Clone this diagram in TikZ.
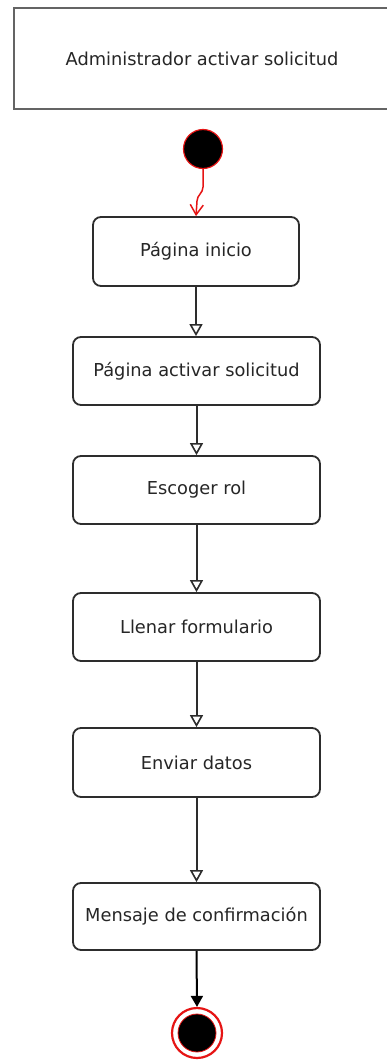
\documentclass[tikz,border=0pt]{standalone}
\usepackage{fontspec}
\setmainfont{DejaVu Sans}
\usetikzlibrary{arrows.meta}
\definecolor{edgegray}{RGB}{45,45,45}
\definecolor{framegray}{RGB}{100,100,100}
\definecolor{umlred}{RGB}{230,20,20}
\begin{document}
\begin{tikzpicture}[x=1pt,y=-1pt,
  every node/.style={font=\fontsize{17.8}{20}\selectfont, text=black!85},
  actbox/.style={draw=edgegray, line width=1.8pt, rounded corners=8pt, fill=white,
    minimum width=247pt, minimum height=68pt, inner sep=0pt},
  flow/.style={draw=edgegray, line width=2pt,
    -{Triangle[open, length=12pt, width=13pt, line width=1.6pt]}},
  endflow/.style={draw=black, line width=2pt,
    -{Triangle[length=11pt, width=12pt]}},
  startflow/.style={draw=umlred, line width=1.5pt,
    -{Straight Barb[length=10pt, width=13pt, line width=1.5pt]}}]
\useasboundingbox (0,0) rectangle (386,1060);
\fill[white] (0,0) rectangle (386,1060);

% title frame, open on the right-hand side of the page
\node[draw=framegray, line width=2.8pt, minimum width=376pt, minimum height=101pt,
  inner sep=0pt] (title) at (202,58.5) {Administrador activar solicitud};

% initial state
\node[circle, fill=black, draw=umlred, line width=1.2pt, minimum size=39pt, inner sep=0pt]
  (start) at (203,149) {};

% activities
\node[actbox, minimum width=206pt, minimum height=69pt] (inicio) at (196,251.5) {Página inicio};
\node[actbox] (activar) at (196.5,371) {Página activar solicitud};
\node[actbox] (rol) at (196.5,490) {Escoger rol};
\node[actbox] (form) at (196.5,627) {Llenar formulario};
\node[actbox, minimum height=69pt] (datos) at (196.5,762.5) {Enviar datos};
\node[actbox, minimum height=67pt] (msg) at (196.5,916.5) {Mensaje de confirmación};

% final state
\node[circle, draw=umlred, line width=2.2pt, fill=white, minimum size=50pt, inner sep=0pt]
  (fin) at (197,1033) {};
\node[circle, fill=black, draw=umlred, line width=0.8pt, minimum size=38pt, inner sep=0pt]
  (findot) at (fin.center) {};

% transitions
\draw[startflow] (start.south) -- ++(0,18) .. controls +(0,6) and +(0,-6) .. ++(-6,14)
  -- (inicio.north -| 196,0);
\draw[flow] (inicio.south) -- (inicio.south |- activar.north);
\draw[flow] (activar.south) -- (rol.north);
\draw[flow] (rol.south) -- (form.north);
\draw[flow] (form.south) -- (datos.north);
\draw[flow] (datos.south) -- (msg.north);
\draw[endflow] (msg.south) -- (fin.north);
\end{tikzpicture}
\end{document}
